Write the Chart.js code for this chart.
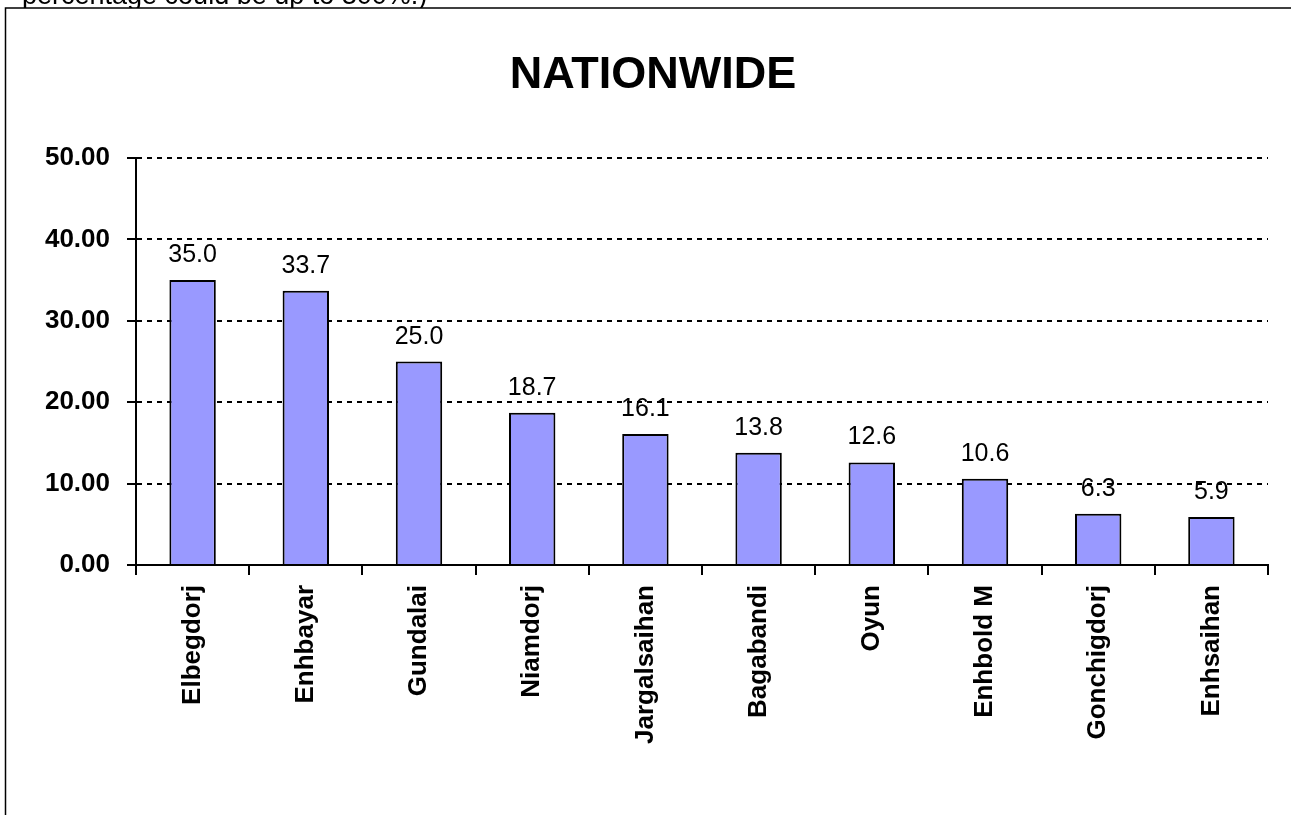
<!DOCTYPE html>
<html>
<head>
<meta charset="utf-8">
<script src="https://cdn.jsdelivr.net/npm/chart.js@4"></script>
<style>
html,body{margin:0;padding:0;background:#fff;}
canvas{display:block;}
</style>
</head>
<body>
<canvas id="c" width="1291" height="815"></canvas>
<script>
const categories = ["Elbegdorj","Enhbayar","Gundalai","Niamdorj","Jargalsaihan","Bagabandi","Oyun","Enhbold M","Gonchigdorj","Enhsaihan"];
const values = [35.0, 33.7, 25.0, 18.7, 16.1, 13.8, 12.6, 10.6, 6.3, 5.9];
const yTicks = [0, 10, 20, 30, 40, 50];
const chartTitle = "NATIONWIDE";
const noteText = "percentage could be up to 300%.)";

const FONT = "'Liberation Sans', Arial, sans-serif";

const framePlugin = {
  id: 'frame',
  beforeDraw(chart) {
    const ctx = chart.ctx;
    ctx.save();
    ctx.fillStyle = '#fff';
    ctx.fillRect(0, 0, chart.width, chart.height);
    ctx.fillStyle = '#000';
    ctx.font = "27px " + FONT;
    ctx.textBaseline = 'alphabetic';
    ctx.textAlign = 'left';
    ctx.fillText(noteText, 22, 4);
    ctx.fillStyle = '#fff';
    ctx.fillRect(5, 8, chart.width + 10, chart.height + 10);
    ctx.strokeStyle = '#000';
    ctx.lineWidth = 1.5;
    ctx.beginPath();
    ctx.moveTo(5.5, chart.height + 5);
    ctx.lineTo(5.5, 8);
    ctx.lineTo(chart.width + 5, 8);
    ctx.stroke();
    ctx.font = "bold 45px " + FONT;
    ctx.textAlign = 'center';
    ctx.fillStyle = '#000';
    ctx.fillText(chartTitle, 653, 88);
    ctx.restore();
  },
  afterDatasetsDraw(chart) {
    const ctx = chart.ctx;
    const meta = chart.getDatasetMeta(0);
    ctx.save();
    ctx.font = "25px " + FONT;
    ctx.fillStyle = '#000';
    ctx.textAlign = 'center';
    ctx.textBaseline = 'alphabetic';
    meta.data.forEach((bar, i) => {
      ctx.fillText(values[i].toFixed(1), bar.x, bar.y - 18);
    });
    ctx.restore();
  }
};

new Chart(document.getElementById('c'), {
  type: 'bar',
  data: {
    labels: categories,
    datasets: [{
      data: values,
      backgroundColor: '#9999FF',
      borderColor: '#000',
      borderWidth: 2,
      barPercentage: 0.41,
      categoryPercentage: 1.0
    }]
  },
  options: {
    responsive: false,
    devicePixelRatio: 1,
    animation: false,
    layout: { padding: { top: 158, left: 0, right: 23, bottom: 0 } },
    plugins: { legend: { display: false }, title: { display: false }, tooltip: { enabled: false } },
    scales: {
      x: {
        offset: true,
        grid: {
          display: true,
          offset: true,
          drawOnChartArea: false,
          drawTicks: true,
          tickLength: 10,
          color: '#000',
          lineWidth: 2
        },
        border: { display: true, color: '#000', width: 2 },
        ticks: {
          color: '#000',
          font: { family: FONT, size: 26, weight: 'bold' },
          minRotation: 90,
          maxRotation: 90,
          autoSkip: false,
          padding: 10
        },
        afterFit(scale) { scale.height = 250; }
      },
      y: {
        min: 0,
        max: 50,
        afterBuildTicks(scale) { scale.ticks = yTicks.map(v => ({ value: v })); },
        grid: {
          display: true,
          color: '#000',
          lineWidth: 2,
          tickBorderDash: [],
          tickLength: 9,
          tickColor: '#000',
          tickWidth: 2
        },
        border: { display: true, color: '#000', width: 2, dash: [5, 5] },
        ticks: {
          color: '#000',
          font: { family: FONT, size: 26, weight: 'bold' },
          padding: 17,
          callback: (v) => Number(v).toFixed(2)
        },
        afterFit(scale) { scale.width = 136; }
      }
    }
  },
  plugins: [framePlugin]
});
</script>
</body>
</html>
